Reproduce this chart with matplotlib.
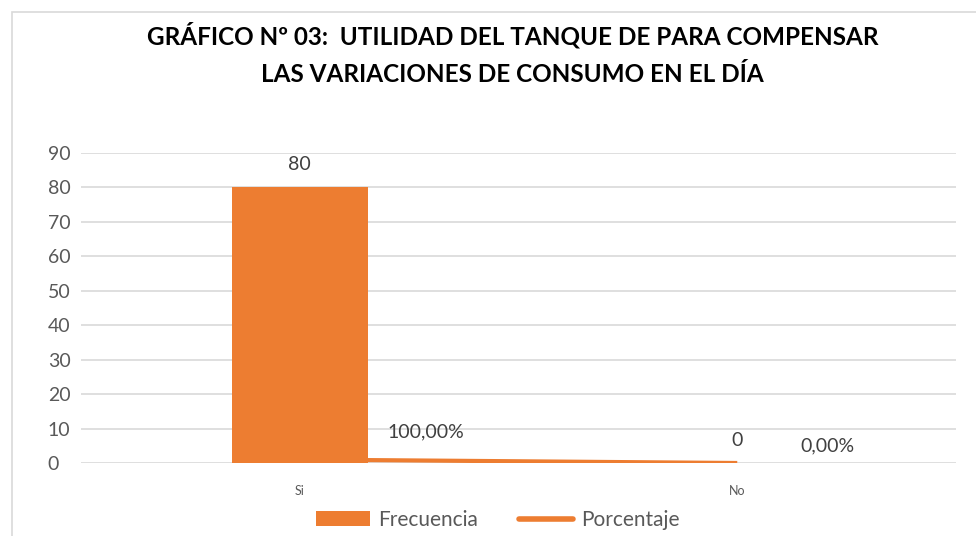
"""
Gráfico Nº 03: frecuencia y porcentaje (barra + línea).
"""

import matplotlib

matplotlib.use("Agg")
import matplotlib.pyplot as plt
from matplotlib.lines import Line2D
from matplotlib.patches import Patch, Rectangle

categories = ["Si", "No"]
frecuencia = [80, 0]
porcentaje = [1.0, 0.0]
porcentaje_labels = ["100,00%", "0,00%"]
y_ticks = [0, 10, 20, 30, 40, 50, 60, 70, 80, 90]

orange = "#ED7D31"
grey_text = "#595959"
grid_col = "#D9D9D9"
# label offsets (pixels) for the percentage labels, as Excel placed them
pct_offsets = [(126, 28), (90, 17)]

plt.rcParams["font.family"] = ["Lato", "DejaVu Sans"]

fig = plt.figure(figsize=(9.76, 5.36), dpi=100)

# chart frame
fig.patches.append(
    Rectangle((12 / 976, -0.1), 1.1, 1 - 12 / 536 + 0.1, transform=fig.transFigure,
              fill=False, edgecolor=grid_col, linewidth=1.2)
)

ax = fig.add_axes([81 / 976, 1 - 463 / 536, 875 / 976, 310 / 536])
x = list(range(len(categories)))

ax.bar(x, frecuencia, width=0.31, color=orange, zorder=2)
ax.plot(x, porcentaje, color=orange, linewidth=3, solid_capstyle="butt", zorder=3)

ax.set_xlim(-0.5, len(categories) - 0.5)
ax.set_ylim(0, 90)
ax.set_yticks(y_ticks)
ax.set_xticks(x)
ax.set_xticklabels(categories, fontsize=9, color=grey_text)
ax.tick_params(axis="y", labelsize=14, colors=grey_text, length=0, pad=24)
ax.tick_params(axis="x", length=0, pad=16)
for lbl in ax.get_yticklabels():
    lbl.set_horizontalalignment("left")
ax.yaxis.grid(True, color=grid_col, linewidth=1.2, zorder=0)
ax.set_axisbelow(True)
for s in ax.spines.values():
    s.set_visible(False)

# data labels
for xi, v in zip(x, frecuencia):
    ax.annotate(str(v), (xi, v), xytext=(0, 14), textcoords="offset pixels",
                ha="center", va="bottom", fontsize=14, color="#404040")
for xi, v, t, off in zip(x, porcentaje, porcentaje_labels, pct_offsets):
    ax.annotate(t, (xi, v), xytext=off, textcoords="offset pixels",
                ha="center", va="center", fontsize=14, color="#404040")

fig.text(0.525, 1 - 35 / 536, "GRÁFICO Nº 03:  UTILIDAD DEL TANQUE DE PARA COMPENSAR",
         ha="center", va="center", fontsize=17.5, fontweight="bold", color="black")
fig.text(0.525, 1 - 75 / 536, "LAS VARIACIONES DE CONSUMO EN EL DÍA",
         ha="center", va="center", fontsize=17.5, fontweight="bold", color="black")

handles = [
    Patch(facecolor=orange, edgecolor="none"),
    Line2D([0], [0], color=orange, linewidth=4, solid_capstyle="round"),
]
fig.legend(handles, ["Frecuencia", "Porcentaje"], loc="center",
           bbox_to_anchor=(0.51, 1 - 520 / 536), ncol=2, frameon=False,
           fontsize=15, labelcolor=grey_text, handlelength=2.6, columnspacing=2.0,
           handletextpad=0.35)

fig.savefig("out.png", dpi=100)
